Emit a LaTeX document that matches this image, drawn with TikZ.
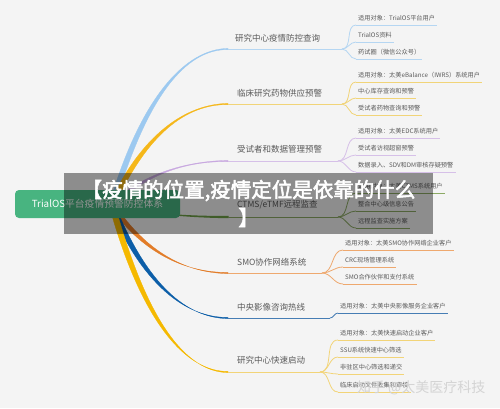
\documentclass[tikz,border=0pt]{standalone}
\usepackage{fontspec}
\setmainfont{Noto Sans CJK SC}
\newfontfamily\cjkbold{Noto Sans CJK SC}[FakeBold=2.5]
\usetikzlibrary{calc}

\definecolor{bg}{RGB}{244,244,244}
\definecolor{txt}{RGB}{90,90,90}
\definecolor{rootgreen}{RGB}{72,180,128}
\definecolor{c1}{RGB}{156,201,240}\definecolor{l1}{RGB}{181,214,242}
\definecolor{c2}{RGB}{245,183,25}\definecolor{l2}{RGB}{241,212,120}
\definecolor{c3}{RGB}{200,168,224}\definecolor{l3}{RGB}{214,192,232}
\definecolor{c4}{RGB}{110,160,70}\definecolor{l4}{RGB}{140,170,100}
\definecolor{c5}{RGB}{226,124,40}\definecolor{l5}{RGB}{238,168,110}
\definecolor{c6}{RGB}{12,94,168}\definecolor{l6}{RGB}{70,125,180}
\definecolor{c7}{RGB}{245,185,0}\definecolor{l7}{RGB}{242,212,120}

\begin{document}
\begin{tikzpicture}[x=1pt,y=-1pt,
  trunk/.style={line width=0.3pt, to path={
      ($(\tikztostart)+(-3,0)$)
      .. controls ($(\tikztostart)!0.7!(\tikztostart|-\tikztotarget)+(29,0)$)
      and ($(\tikztotarget)+(-42,0)$) .. ($(\tikztotarget)+(0,-0.6)$)
      -- ($(\tikztotarget)+(0,0.6)$)
      .. controls ($(\tikztotarget)+(-42,0)$)
      and ($(\tikztostart)!0.7!(\tikztostart|-\tikztotarget)+(35,0)$)
      .. ($(\tikztostart)+(3,0)$) -- cycle}},
  root node/.style={fill=rootgreen,rounded corners=4pt,text=white,
    minimum width=165pt,minimum height=28pt,font=\fontsize{9.8}{11}\selectfont},
  topic/.style={anchor=west,inner sep=0pt,text=txt,font=\fontsize{8.5}{10}\selectfont},
  leaf/.style={anchor=south west,text=txt,font=\fontsize{6.2}{7}\selectfont,
    inner xsep=2pt,inner ysep=3pt,text height=5pt,text depth=1pt,
    append after command={(\tikzlastnode.south west) edge[draw=#1,line width=0.8pt] (\tikzlastnode.south east)}},
  twig/.style={draw=#1,line width=0.8pt,out=0,in=180},
  banner/.style={fill=black,fill opacity=0.42,text opacity=1,text=white,align=center,
    minimum width=369pt,minimum height=61pt,inner sep=0pt,
    font=\cjkbold\fontsize{20.5}{28}\selectfont},
  wmark/.style={anchor=east,text=black!17,font=\fontsize{14}{16}\selectfont}]

  \useasboundingbox (0,0) rectangle (500,408);
  \fill[bg] (0,0) rectangle (500,408);

  % branch ends and forks
  \coordinate (o) at (112,205);
  \coordinate (e1) at (228,49);  \coordinate (f1) at (342,49);
  \coordinate (e2) at (228,104); \coordinate (f2) at (342,104);
  \coordinate (e3) at (228,161); \coordinate (f3) at (338,161);
  \coordinate (e4) at (228,217); \coordinate (f4) at (338,217);
  \coordinate (e5) at (228,273); \coordinate (f5) at (322,273);
  \coordinate (e6) at (228,318); \coordinate (f6) at (330,318);
  \coordinate (e7) at (228,372); \coordinate (f7) at (320,372);

  \path (o) edge[trunk,draw=c1,fill=c1] (e1)
            edge[trunk,draw=c2,fill=c2] (e2)
            edge[trunk,draw=c3,fill=c3] (e3)
            edge[trunk,draw=c4,fill=c4,line width=1.2pt] (e4)
            edge[trunk,draw=c5,fill=c5] (e5)
            edge[trunk,draw=c6,fill=c6] (e6)
            edge[trunk,draw=c7,fill=c7] (e7);
  \path[line width=1pt] (e1) edge[draw=l1] (f1) (e2) edge[draw=l2] (f2)
    (e3) edge[draw=l3] (f3) (e4) edge[draw=l4] (f4) (e5) edge[draw=l5] (f5)
    (e6) edge[draw=l6] (f6) (e7) edge[draw=l7] (f7);

  \node[root node] (root) at (97.5,204) {TrialOS平台疫情预警防控体系};

  \node[topic] (t1) at (235,38) {研究中心疫情防控查询};
  \node[topic] (t2) at (237,93) {临床研究药物供应预警};
  \node[topic] (t3) at (237,149) {受试者和数据管理预警};
  \node[topic] (t4) at (237,205) {CTMS/eTMF远程监查};
  \node[topic] (t5) at (237,262) {SMO协作网络系统};
  \node[topic] (t6) at (237,307) {中央影像咨询热线};
  \node[topic] (t7) at (237,360) {研究中心快速启动};

  \node[leaf=l1] (l11) at (356,25) {适用对象：TrialOS平台用户};
  \node[leaf=l1] (l12) at (356,42) {TrialOS资料};
  \node[leaf=l1] (l13) at (356,59) {药试圈（微信公众号）};
  \node[leaf=l2] (l21) at (356,82) {适用对象：太美eBalance（IWRS）系统用户};
  \node[leaf=l2] (l22) at (356,98) {中心库存查询和预警};
  \node[leaf=l2] (l23) at (356,115) {受试者药物查询和预警};
  \node[leaf=l3] (l31) at (356,138) {适用对象：太美EDC系统用户};
  \node[leaf=l3] (l32) at (356,155) {受试者访视超窗预警};
  \node[leaf=l3] (l33) at (356,172) {数据录入、SDV和DM审核存疑预警};
  \node[leaf=l4] (l41) at (356,193) {适用对象：太美CTMS系统用户};
  \node[leaf=l4] (l42) at (356,211) {整合中心级信息公告};
  \node[leaf=l4] (l43) at (356,228) {远程监查实施方案};
  \node[leaf=l5] (l51) at (343,250) {适用对象：太美SMO协作网络企业客户};
  \node[leaf=l5] (l52) at (343,267) {CRC现场管理系统};
  \node[leaf=l5] (l53) at (343,284) {SMO合作伙伴和支付系统};
  \node[leaf=l6] (l61) at (338,313) {适用对象：太美中央影像服务企业客户};
  \node[leaf=l7] (l71) at (338,340) {适用对象：太美快速启动企业客户};
  \node[leaf=l7] (l72) at (338,357) {SSU系统快速中心筛选};
  \node[leaf=l7] (l73) at (338,374) {非驻区中心筛选和递交};
  \node[leaf=l7] (l74) at (338,392) {临床启动文件收集和审核};

  \path (f1) edge[twig=l1] (l11.south west) edge[twig=l1] (l12.south west) edge[twig=l1] (l13.south west);
  \path (f2) edge[twig=l2] (l21.south west) edge[twig=l2] (l22.south west) edge[twig=l2] (l23.south west);
  \path (f3) edge[twig=l3] (l31.south west) edge[twig=l3] (l32.south west) edge[twig=l3] (l33.south west);
  \path (f4) edge[twig=l4] (l41.south west) edge[twig=l4] (l42.south west) edge[twig=l4] (l43.south west);
  \path (f5) edge[twig=l5] (l51.south west) edge[twig=l5] (l52.south west) edge[twig=l5] (l53.south west);
  \path (f6) edge[twig=l6] (l61.south west);
  \path (f7) edge[twig=l7] (l71.south west) edge[twig=l7] (l72.south west)
             edge[twig=l7] (l73.south west) edge[twig=l7] (l74.south west);

  % title banner on top
  \node[banner] (ban) at (248.5,203.5) {【疫情的位置,疫情定位是依靠的什么\\】};
  \node[wmark] (wm) at (489,388) {知乎 @太美医疗科技};
\end{tikzpicture}
\end{document}
